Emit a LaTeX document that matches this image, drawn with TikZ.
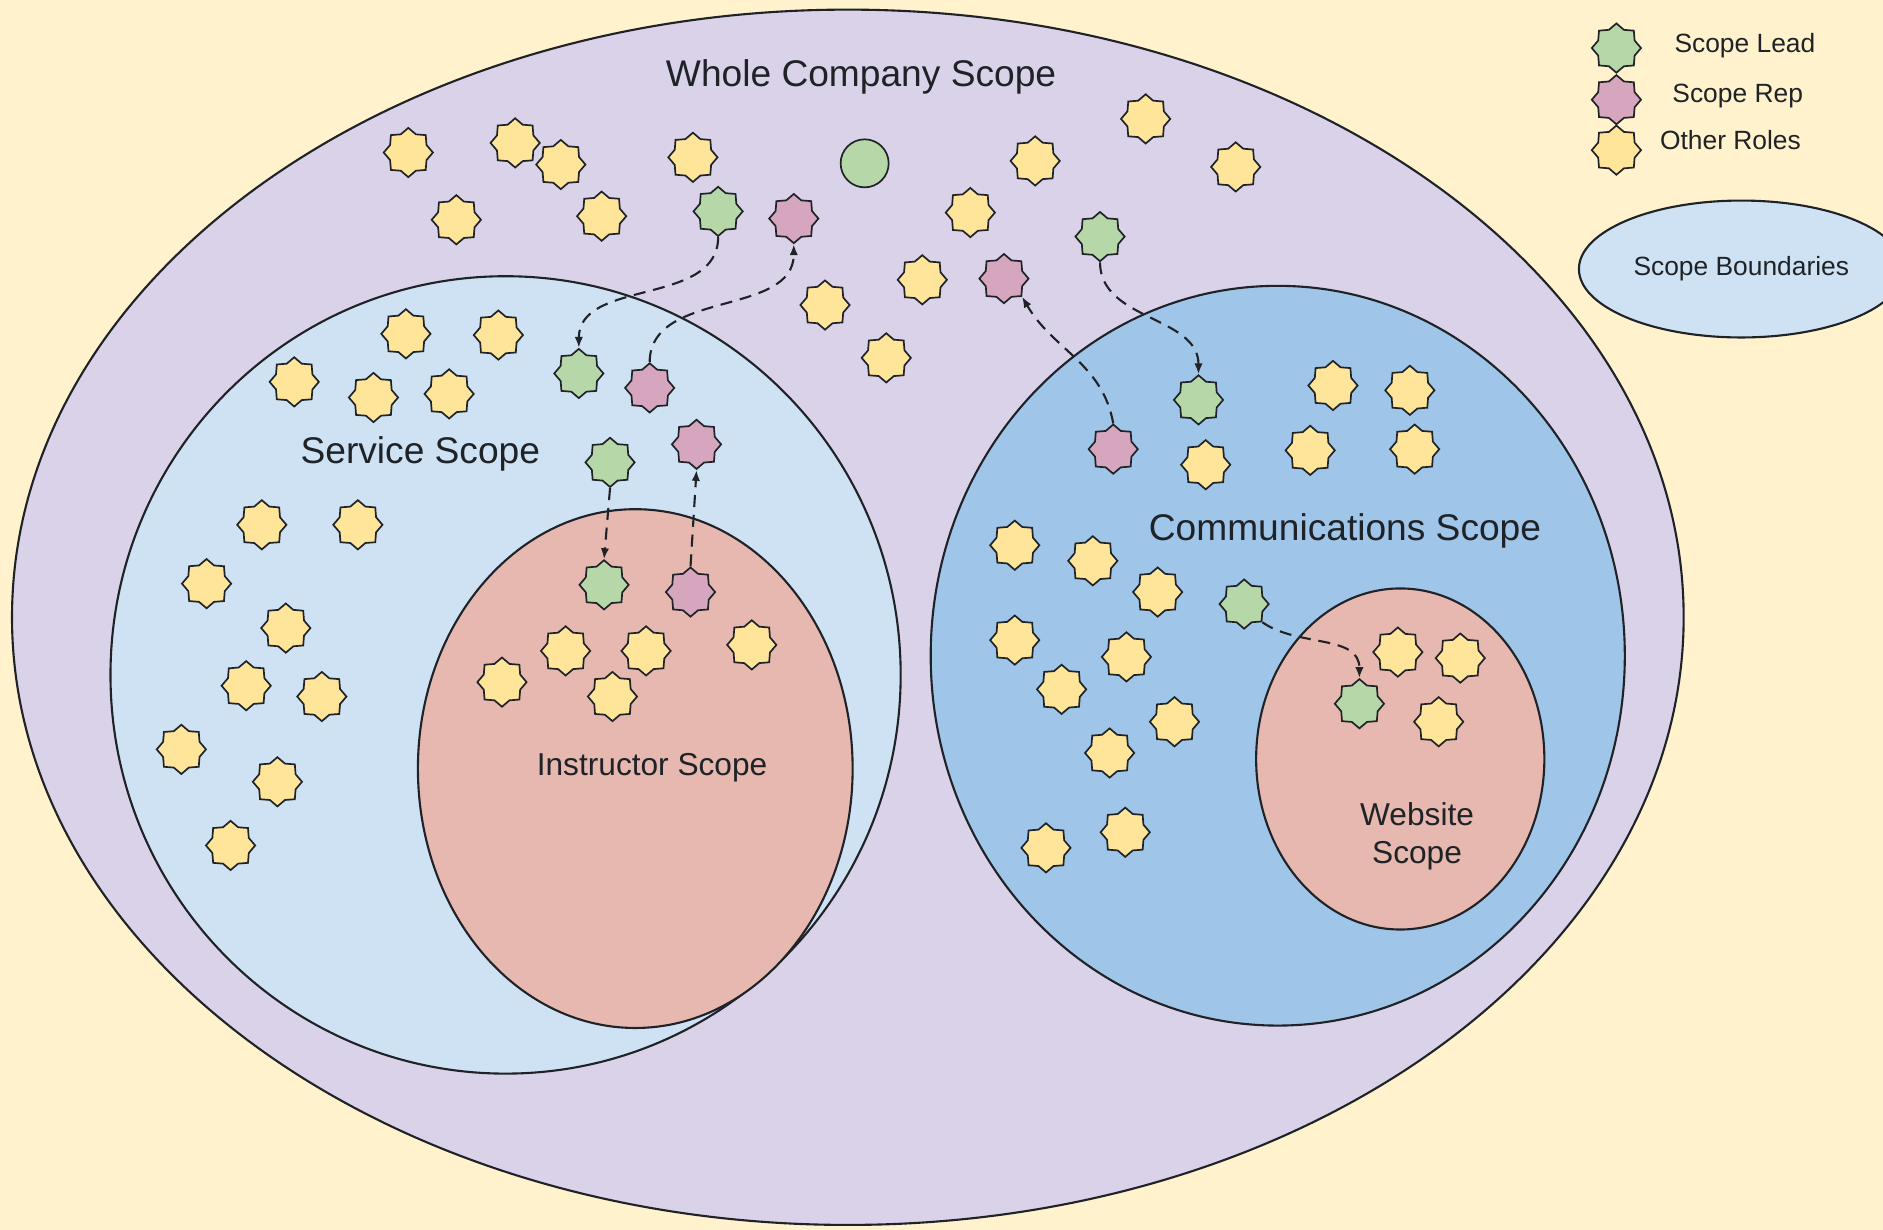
\documentclass[tikz,border=0pt]{standalone}
\usepackage{fontspec}
\setmainfont{Liberation Sans}
\usetikzlibrary{shapes.geometric,arrows.meta}

\definecolor{bgcol}{HTML}{FFF2CC}
\definecolor{wholecol}{HTML}{D9D2E9}
\definecolor{servicecol}{HTML}{CFE2F3}
\definecolor{commscol}{HTML}{9FC5E8}
\definecolor{innercol}{HTML}{E6B8AF}
\definecolor{leadcol}{HTML}{B6D7A8}
\definecolor{repcol}{HTML}{D5A6BD}
\definecolor{othercol}{HTML}{FFE599}
\definecolor{inkcol}{HTML}{1F2328}

\begin{document}
\begin{tikzpicture}[
		x=0.2mm, y=-0.2mm,
		>=Latex,
		role/.style={star, star points=8, star point ratio=1.25, draw=inkcol, line width=0.8pt, minimum size=8.2mm, inner sep=0pt},
		lead/.style={role, fill=leadcol},
		rep/.style={role, fill=repcol},
		other/.style={role, fill=othercol},
		scopeline/.style={draw=inkcol, line width=1pt},
		link/.style={-{Latex[length=1.8mm,width=1.4mm]}, line width=1pt, draw=inkcol, dash pattern=on 2mm off 1.3mm},
		bigtext/.style={font=\fontsize{17.6}{21}\selectfont, text=inkcol},
		midtext/.style={font=\fontsize{15}{18}\selectfont, text=inkcol, align=center},
		keytext/.style={font=\fontsize{12.5}{15}\selectfont, text=inkcol}
		]
		
		% Background and scope boundaries
		\useasboundingbox (0,0) rectangle (1568,1024);
		\fill[bgcol] (0,0) rectangle (1568,1024);
		\draw[scopeline, fill=wholecol] (706,514) ellipse [x radius=696, y radius=506];
		\draw[scopeline, fill=servicecol] (421,562) ellipse [x radius=329, y radius=332];
		\draw[scopeline, fill=innercol] (529,640) ellipse [x radius=181, y radius=216];
		\draw[scopeline, fill=commscol] (1064,546) ellipse [x radius=289, y radius=308];
		\draw[scopeline, fill=innercol] (1166,632) ellipse [x radius=120, y radius=142];
		
		% Scope names
		\node[bigtext] (wholename) at (717,64) {Whole Company Scope};
		\node[bigtext] (servicename) at (350,378) {Service Scope};
		\node[bigtext] (commsname) at (1120,442) {Communications Scope};
		\node[midtext] (instructorname) at (543,639) {Instructor Scope};
		\node[midtext] (websitename) at (1180,696) {Website\\Scope};
		
		% Other roles
		\foreach \x/\y [count=\i] in {340/127, 429/119, 467/137, 577/131, 380/183, 501/180, 862/134, 954/99, 1029/139, 808/177, 768/233, 687/254, 738/298,
				338/278, 415/279, 245/318, 311/331, 374/328, 218/437, 298/437, 172/486, 238/523, 205/571, 268/580, 151/624, 231/651, 192/704,
				418/568, 471/542, 538/542, 510/580, 626/537,
				1110/321, 1174/325, 1004/387, 1091/375, 1178/374, 845/454, 910/467, 964/493, 845/533, 938/547, 884/574, 978/601, 924/627, 871/706, 937/693,
				1164/543, 1216/548, 1198/601}
			\node[other] (o\i) at (\x,\y) {};
		
		% Leads and reps
		\node[circle, draw=inkcol, line width=0.8pt, fill=leadcol, minimum width=8mm, minimum height=7.6mm, inner sep=0pt] (orb) at (720,136) {};
		\node[lead] (leadW1) at (598,176) {};
		\node[rep] (repW1) at (661,182) {};
		\node[lead] (leadW2) at (916,197) {};
		\node[rep] (repW2) at (836,232) {};
		\node[lead] (leadS1) at (482,311) {};
		\node[rep] (repS1) at (541,323) {};
		\node[lead] (leadS2) at (508,385) {};
		\node[rep] (repS2) at (580,370) {};
		\node[lead] (leadI) at (503,487) {};
		\node[rep] (repI) at (575,493) {};
		\node[lead] (leadC1) at (998,333) {};
		\node[rep] (repC) at (927,374) {};
		\node[lead] (leadC2) at (1036,503) {};
		\node[lead] (leadWeb) at (1132,586) {};
		
		% Links between scopes
		\draw[link] (leadW1.south) to[out=-90, in=90] (leadS1.north);
		\draw[link] (repS1.north) to[out=90, in=-90] (repW1.south);
		\draw[link] (leadS2.south) -- (leadI.north);
		\draw[link] (repI.north) -- (repS2.south);
		\draw[link] (leadW2.south) to[out=-90, in=90] (leadC1.north);
		\draw[link] (repC.north) to[out=100, in=-60] (repW2.south east);
		\draw[link] (leadC2.south east) to[out=-35, in=90] (leadWeb.north);
		
		% Legend
		\node[lead] (keylead) at (1346,40) {};
		\node[rep] (keyrep) at (1346,83) {};
		\node[other] (keyother) at (1346,125) {};
		\node[keytext] (keyleadtext) at (1453,38) {Scope Lead};
		\node[keytext] (keyreptext) at (1447,80) {Scope Rep};
		\node[keytext] (keyothertext) at (1441,117) {Other Roles};
		\node[ellipse, scopeline, fill=servicecol, minimum width=47mm, minimum height=22.8mm, keytext] (keyscope) at (1450,224) {Scope Boundaries};
		
	\end{tikzpicture}
\end{document}
